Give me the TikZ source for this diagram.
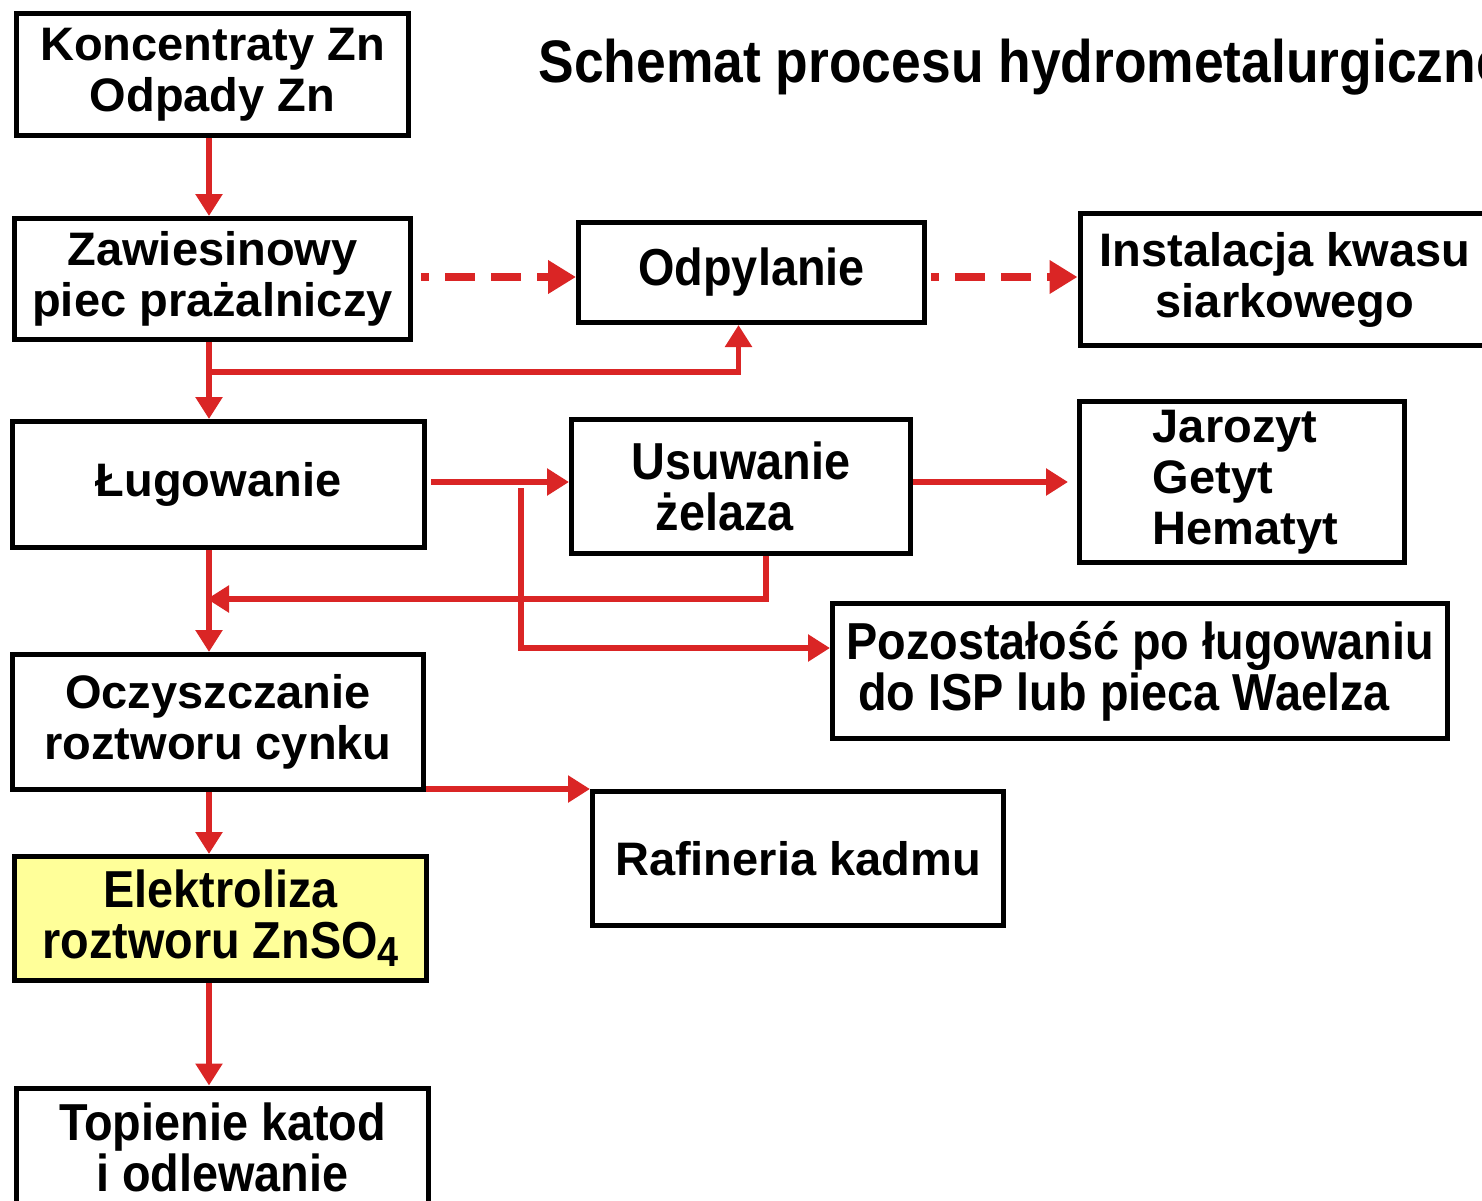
\documentclass[tikz,border=0pt]{standalone}
\usepackage{fontspec}
\setmainfont{Liberation Sans}
\newfontfamily\narrowfamily{Liberation Sans}[FakeStretch=0.9]
\newfontfamily\headfamily{Liberation Sans}[FakeStretch=0.89]
\usetikzlibrary{arrows.meta}

\definecolor{flowred}{RGB}{218,37,37}
\definecolor{elyellow}{RGB}{255,255,153}

\newcommand\procfont{\bfseries\fontsize{47}{51}\selectfont}
\newcommand\procnarrowfont{\narrowfamily\bfseries\fontsize{52}{51}\selectfont}
\newcommand\schemafont{\headfamily\bfseries\fontsize{60}{66}\selectfont}

\tikzset{
    box/.style={draw=black, line width=5pt, inner sep=0pt, align=center, font=\procfont},
    narrowbox/.style={box, font=\procnarrowfont},
    flow/.style={draw=flowred, line width=5.5pt, -{Triangle[length=22pt,width=26pt]}},
    gasflow/.style={draw=flowred, line width=8pt, dash pattern=on 30pt off 16pt, dash phase=22pt,
        -{Triangle[length=28pt,width=32pt]}}
}

\begin{document}
\begin{tikzpicture}[x=1pt, y=-1pt]
    \path[use as bounding box, clip] (0,0) rectangle (1482,1200);

    \node[anchor=base west, font=\schemafont] (title) at (535,82) {Schemat procesu hydrometalurgicznego};

    %ciag glowny
    \node[box, minimum width=392pt, minimum height=122pt] (conc) at (212.5,74.5) {Koncentraty Zn\\Odpady Zn};
    \node[box, minimum width=396pt, minimum height=121pt] (piec) at (212.5,279) {Zawiesinowy\\piec prażalniczy};
    \node[box, minimum width=412pt, minimum height=126pt] (lug) at (218.5,484.5) {Ługowanie};
    \node[box, minimum width=411pt, minimum height=135pt] (oczy) at (218,722) {Oczyszczanie\\roztworu cynku};
    \node[narrowbox, fill=elyellow, minimum width=412pt, minimum height=124pt] (elek) at (220.5,918.5)
        {Elektroliza\\roztworu ZnSO\raisebox{-8pt}{\fontsize{42}{42}\selectfont 4}};
    \node[narrowbox, minimum width=412pt, minimum height=118pt] (topien) at (222.5,1147) {Topienie katod\\i odlewanie};

    %boczne
    \node[narrowbox, minimum width=346pt, minimum height=100pt] (odpyl) at (751.5,272.5) {Odpylanie};
    \node[box, minimum width=410pt, minimum height=132pt] (kwas) at (1285,279.5) {Instalacja kwasu\\siarkowego};
    \node[narrowbox, align=left, minimum width=339pt, minimum height=134pt] (usuw) at (741,486.5)
        {Usuwanie\\\hspace*{24pt}żelaza};
    \node[box, align=left, minimum width=325pt, minimum height=161pt] (jaro) at (1242,482)
        {\hspace*{7pt}Jarozyt\\\hspace*{7pt}Getyt\\\hspace*{7pt}Hematyt};
    \node[narrowbox, align=left, minimum width=615pt, minimum height=135pt] (pozost) at (1140,671)
        {Pozostałość po ługowaniu\\\hspace*{12pt}do ISP lub pieca Waelza};
    \node[box, minimum width=411pt, minimum height=134pt] (rafin) at (798,858.5) {Rafineria kadmu};

    \coordinate (trunk) at (209,0);
    \coordinate (dashy) at (0,277);
    \coordinate (leachy) at (0,482);
    \coordinate (backy) at (0,599);
    \coordinate (dustsplit) at (209,372);
    \coordinate (ressplit) at (521,488);

    \foreach \a/\b in {conc/piec, piec/lug, lug/oczy, oczy/elek, elek/topien} {
        \draw[flow] (\a.south -| trunk) -- (\b.north -| trunk);
    }

    %gazy
    \draw[gasflow, shorten <=8pt] (piec.east |- dashy) -- (odpyl.west |- dashy);
    \draw[gasflow, shorten <=4pt] (odpyl.east |- dashy) -- (kwas.west |- dashy);
    \draw[flow] (dustsplit) -| ([xshift=-13pt]odpyl.south);

    %roztwor
    \draw[flow, shorten <=4pt] (lug.east |- leachy) -- (usuw.west |- leachy);
    \draw[flow] (ressplit) |- ([yshift=23pt]pozost.west);
    \draw[flow, shorten >=9pt] (usuw.east |- leachy) -- (jaro.west |- leachy);
    \draw[flow, shorten >=-2pt] ([xshift=25pt]usuw.south) |- (trunk |- backy);
    \draw[flow] (oczy.south east |- rafin.north west) -- (rafin.north west);
\end{tikzpicture}
\end{document}
